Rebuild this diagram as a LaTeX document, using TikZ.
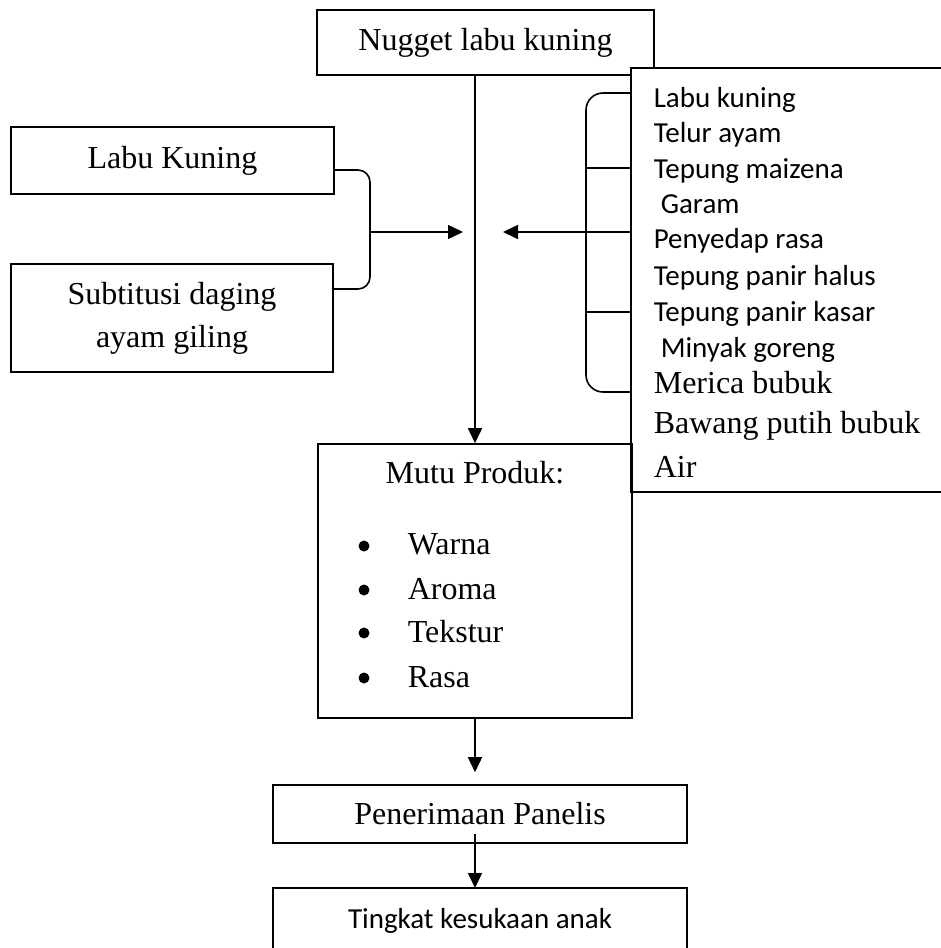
\documentclass[tikz,border=0pt]{standalone}
\usepackage{fontspec}
\setmainfont{Liberation Serif}
\newfontfamily\calfont{Carlito}
\usetikzlibrary{arrows.meta}
\newcommand\tmsz{\fontsize{32}{43}\selectfont}
\newcommand\calsz{\calfont\fontsize{29}{35}\selectfont}
\begin{document}
\begin{tikzpicture}[x=1pt,y=1pt,line width=1.6pt,
  box/.style={draw,line width=1.6pt,inner sep=0pt,align=center,font=\tmsz},
  txt/.style={inner sep=0pt,font=\tmsz},
  caltxt/.style={inner sep=0pt,font=\calsz},
  dot/.style={circle,fill=black,inner sep=0pt,minimum size=11pt},
  arr/.style={-{Triangle[length=15pt,width=14pt]},line width=1.6pt}]
\useasboundingbox (0,0) rectangle (941,-948);
\clip (0,0) rectangle (941,-948);

% top box
\node[box,minimum width=337pt,minimum height=65pt] (top) at (485.5,-42.5) {Nugget labu kuning};

% ingredient list box (covers corner of top box)
\draw[fill=white] (631,-68) rectangle (990,-492);
\node[caltxt,anchor=base west] (i1) at (653,-107) {Labu kuning};
\node[caltxt,anchor=base west] (i2) at (653,-142) {Telur ayam};
\node[caltxt,anchor=base west] (i3) at (653,-178) {Tepung maizena};
\node[caltxt,anchor=base west] (i4) at (660,-213) {Garam};
\node[caltxt,anchor=base west] (i5) at (653,-248) {Penyedap rasa};
\node[caltxt,anchor=base west] (i6) at (653,-285) {Tepung panir halus};
\node[caltxt,anchor=base west] (i7) at (653,-321) {Tepung panir kasar};
\node[caltxt,anchor=base west] (i8) at (660,-357) {Minyak goreng};
\node[txt,anchor=base west] (i9) at (653,-393) {Merica bubuk};
\node[txt,anchor=base west] (i10) at (653,-433) {Bawang putih bubuk};
\node[txt,anchor=base west] (i11) at (653,-477) {Air};

% right bracket
\draw[rounded corners=17pt] (631,-93) -- (586,-93) -- (586,-392) -- (631,-392);
\draw (586,-168) -- (631,-168);
\draw (586,-232) -- (631,-232);
\draw (586,-312) -- (631,-312);

% left boxes
\node[box,minimum width=323pt,minimum height=67pt] (labu) at (172.5,-160.5) {Labu Kuning};
\node[box,minimum width=322pt,minimum height=108pt] (sub) at (172,-318) {Subtitusi daging\\ayam giling};

% left bracket
\draw[rounded corners=12pt] (334,-170) -- (370,-170) -- (370,-289) -- (334,-289);

% Mutu box
\node[draw,line width=1.6pt,inner sep=0pt,minimum width=314pt,minimum height=274pt] (mutu) at (475,-581) {};
\node[txt,anchor=base] (mp) at (475,-483) {Mutu Produk:};
\node[dot] (b1) at (364,-546) {};
\node[dot] (b2) at (364,-590) {};
\node[dot] (b3) at (364,-633) {};
\node[dot] (b4) at (364,-678) {};
\node[txt,anchor=base west] (m1) at (407,-554) {Warna};
\node[txt,anchor=base west] (m2) at (407,-599) {Aroma};
\node[txt,anchor=base west] (m3) at (407,-642) {Tekstur};
\node[txt,anchor=base west] (m4) at (407,-687) {Rasa};

% Penerimaan box
\node[box,minimum width=414pt,minimum height=58pt] (pen) at (480,-814) {Penerimaan Panelis};

% Tingkat box (open at the bottom edge of picture)
\draw (273,-960) -- (273,-888) -- (687,-888) -- (687,-960);
\node[caltxt,anchor=base] (tk) at (480,-928) {Tingkat kesukaan anak};
\coordinate (tingtop) at (475,-888);

% connectors
\coordinate (lb) at (370,-232);
\coordinate (ltip) at (463,-232);
\coordinate (rb) at (586,-232);
\coordinate (rtip) at (503,-232);
\draw[arr] (top.south -| mutu.north) -- (mutu.north);
\draw[arr] (lb) -- (ltip);
\draw[arr] (rb) -- (rtip);
\draw[arr,shorten >=12pt] (mutu.south) -- (mutu.south |- pen.north);
\draw[arr,shorten <=-10pt] (pen.south -| mutu.south) -- (tingtop);
\end{tikzpicture}
\end{document}
